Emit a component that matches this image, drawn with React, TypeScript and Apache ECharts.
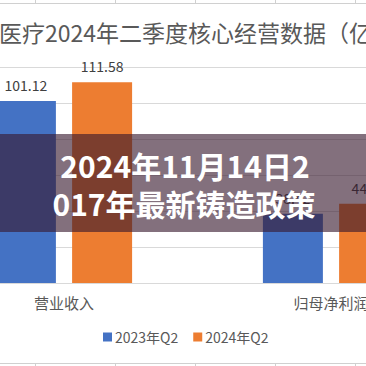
import React, { useEffect, useRef } from "react";
import * as echarts from "echarts";

const categories = ["营业收入", "归母净利润"];
const seriesNames = ["2023年Q2", "2024年Q2"];
const values2023 = [101.12, 38.42];
const values2024 = [111.58, 44.08];
const titleText = "医疗2024年二季度核心经营数据（亿元）";
const bannerLines = ["2024年11月14日2", "017年最新铸造政策"];
const sheetColumnsX = [35, 115, 195, 275, 355];

const OX = 100; // container shifted left by this many px
const W = 600;
const H = 366;
const FONT = '"Noto Sans CJK SC", "Noto Sans", sans-serif';

export default function App() {
  const ref = useRef<HTMLDivElement>(null);
  useEffect(() => {
    if (!ref.current) return;
    const chart = echarts.init(ref.current, null, { renderer: "svg" });
    const gridColor = "#d9d9d9";
    const sheetLines: any[] = [];
    sheetLines.push({ type: "line", z: 50, shape: { x1: OX, y1: 3.5, x2: OX + 366, y2: 3.5 }, style: { stroke: "#d0d0d0", lineWidth: 1 } });
    sheetLines.push({ type: "line", z: 50, shape: { x1: OX, y1: 363.5, x2: OX + 366, y2: 363.5 }, style: { stroke: "#d0d0d0", lineWidth: 1 } });
    sheetColumnsX.forEach((x) => {
      sheetLines.push({ type: "line", z: 50, shape: { x1: OX + x + 0.5, y1: 0, x2: OX + x + 0.5, y2: 3.5 }, style: { stroke: "#d0d0d0", lineWidth: 1 } });
      sheetLines.push({ type: "line", z: 50, shape: { x1: OX + x + 0.5, y1: 363.5, x2: OX + x + 0.5, y2: 366 }, style: { stroke: "#d0d0d0", lineWidth: 1 } });
    });
    chart.setOption({
      animation: false,
      backgroundColor: "#ffffff",
      textStyle: { fontFamily: FONT },
      grid: { left: OX - 69.5, right: W - (OX + 464.5), top: 67, bottom: H - 283 },
      legend: {
        data: seriesNames,
        left: OX + 98,
        top: 325,
        icon: "rect",
        itemWidth: 9,
        itemHeight: 9,
        itemGap: 15,
        textStyle: { fontSize: 14, color: "#595959", fontFamily: FONT, padding: [0, 0, 0, -2] },
      },
      xAxis: {
        type: "category",
        data: categories,
        axisLine: { lineStyle: { color: gridColor } },
        axisTick: { show: false },
        axisLabel: { fontSize: 15, color: "#595959", margin: 12, fontFamily: FONT },
      },
      yAxis: {
        type: "value",
        min: 0,
        max: 120,
        interval: 20,
        axisLabel: { show: false },
        axisLine: { show: false },
        splitLine: { lineStyle: { color: gridColor } },
      },
      series: [
        {
          name: seriesNames[0],
          type: "bar",
          data: values2023,
          barWidth: 60,
          barGap: "27%",
          itemStyle: { color: "#4472C4" },
          label: { show: true, position: "top", distance: 9, fontSize: 14, color: "#404040", fontFamily: FONT },
        },
        {
          name: seriesNames[1],
          type: "bar",
          data: values2024,
          barWidth: 60,
          barGap: "27%",
          itemStyle: { color: "#ED7D31" },
          label: { show: true, position: "top", distance: 9, fontSize: 14, color: "#404040", fontFamily: FONT },
        },
      ],
      graphic: [
        ...sheetLines,
        {
          type: "text",
          z: 50,
          x: OX - 1,
          y: 32,
          style: { text: titleText, fill: "#595959", font: `23px ${FONT}`, textAlign: "left", textVerticalAlign: "middle" },
        },
        {
          type: "rect",
          z: 100,
          shape: { x: OX, y: 134, width: 366, height: 98 },
          style: { fill: "rgba(55,25,45,0.62)" },
        },
        {
          type: "text",
          z: 101,
          x: OX + 185,
          y: 165,
          style: { text: bannerLines[0], fill: "#ffffff", font: `bold 30px ${FONT}`, textAlign: "center", textVerticalAlign: "middle" },
        },
        {
          type: "text",
          z: 101,
          x: OX + 184,
          y: 203,
          style: { text: bannerLines[1], fill: "#ffffff", font: `bold 30px ${FONT}`, textAlign: "center", textVerticalAlign: "middle" },
        },
      ],
    });
    return () => chart.dispose();
  }, []);
  return <div ref={ref} style={{ position: "fixed", left: -OX, top: 0, width: W, height: H }} />;
}
